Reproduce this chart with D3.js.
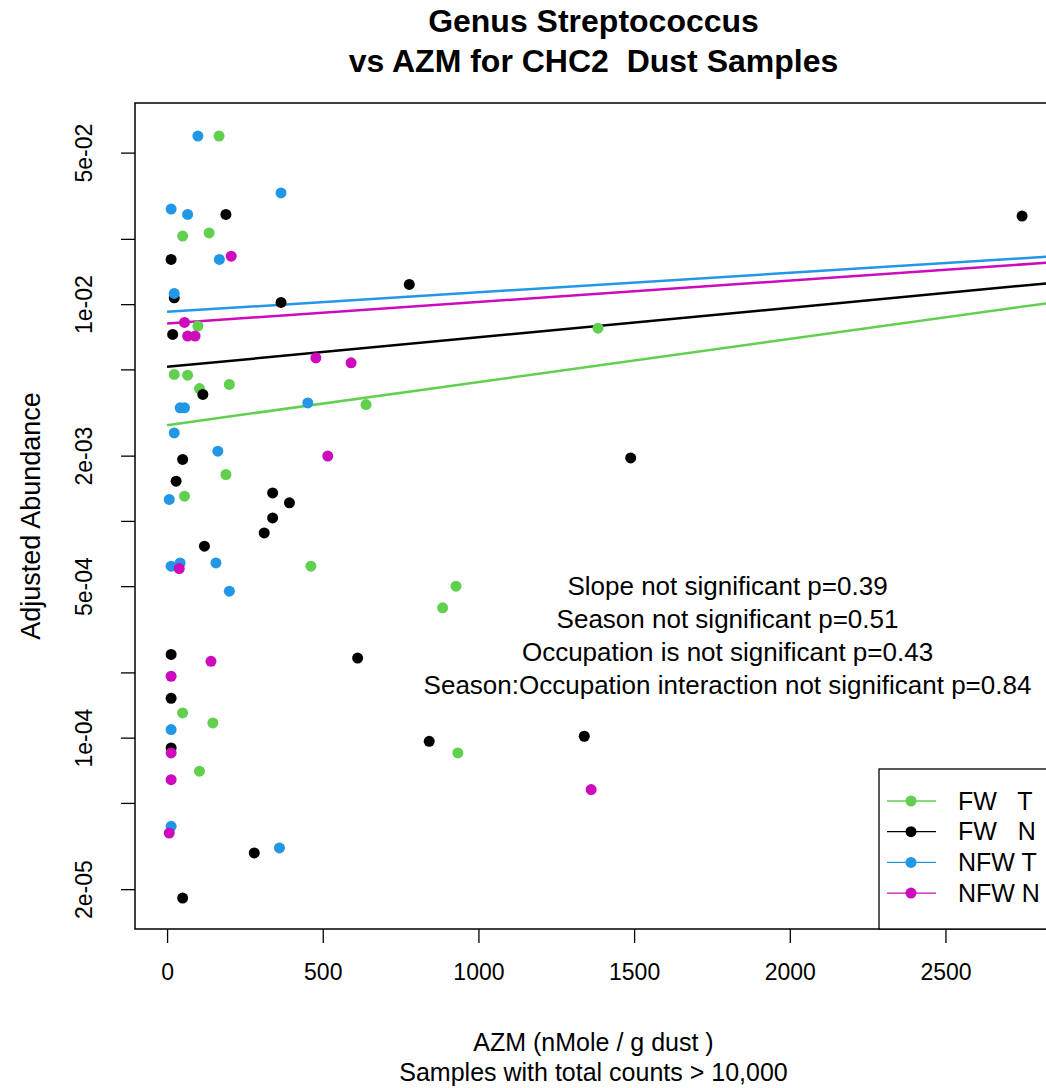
<!DOCTYPE html>
<html>
<head>
<meta charset="utf-8">
<script src="https://cdn.jsdelivr.net/npm/d3@7"></script>
<style>
  body { margin: 0; background: #fff; }
  text { font-family: "Liberation Sans", Arial, sans-serif; }
</style>
</head>
<body>
<svg id="chart" width="1046" height="1088"></svg>
<script>
// groups and colours (R palette)
const groups = ["FW   T", "FW   N", "NFW T", "NFW N"];
const colors = ["#61D04F", "#000000", "#2297E6", "#CD0BBC"];

// AZM (x) and adjusted abundance (y) per group
const fwT_x = [167, 50, 135, 99, 23, 66, 104, 200, 639, 1384, 189, 56, 462, 928, 885, 50, 147, 934, 104];
const fwT_y = [0.0596, 0.0206, 0.0213, 0.00792, 0.00474, 0.00470, 0.00408, 0.00426, 0.00344, 0.00775,
  0.001637, 0.0013, 0.000618, 0.0005, 0.000397, 0.00013, 0.000117, 0.000085, 0.00007];

const fwN_x = [189, 13, 23, 366, 778, 18, 115, 2746, 50, 1489, 29, 339, 393, 339, 312, 120, 612, 13, 13, 13, 842, 1340, 280, 50];
const fwN_y = [0.02594, 0.01608, 0.01069, 0.01018, 0.01233, 0.00725, 0.00383, 0.02547, 0.00192, 0.001953,
  0.001525, 0.001346, 0.001211, 0.001032, 0.00088, 0.000764, 0.000233, 0.000242, 0.000152, 0.0000897,
  0.0000962, 0.0001015, 0.0000294, 0.0000182];

const nfwT_x = [99, 366, 13, 66, 168, 23, 42, 56, 452, 23, 163, 7, 13, 42, 157, 200, 13, 13, 361];
const nfwT_y = [0.0596, 0.0326, 0.02744, 0.02594, 0.01608, 0.0112, 0.003323, 0.003323, 0.003503, 0.002547,
  0.002097, 0.001256, 0.000618, 0.00064, 0.00064, 0.000474, 0.000109, 0.000039, 0.000031];

const nfwN_x = [206, 56, 66, 90, 478, 591, 516, 39, 141, 13, 13, 13, 7, 1362];
const nfwN_y = [0.01665, 0.00823, 0.00712, 0.00712, 0.00565, 0.00536, 0.00199, 0.000603, 0.000225, 0.000192,
  0.000085, 0.000064, 0.0000363, 0.0000576];

// fitted lines: log10(y) = a + b * x
const fitA = [-2.5584, -2.2893, -2.0355, -2.0891];
const fitB = [1.990e-4, 1.363e-4, 0.899e-4, 0.991e-4];

// axes
const xTicks = [0, 500, 1000, 1500, 2000, 2500];
const yTicks = [5e-2, 2e-2, 1e-2, 5e-3, 2e-3, 1e-3, 5e-4, 2e-4, 1e-4, 5e-5, 2e-5];
const yTickLabels = ["5e-02", "", "1e-02", "", "2e-03", "", "5e-04", "", "1e-04", "", "2e-05"];

const annotations = [
  "Slope not significant p=0.39",
  "Season not significant p=0.51",
  "Occupation is not significant p=0.43",
  "Season:Occupation interaction not significant p=0.84"
];

const xs = [fwT_x, fwN_x, nfwT_x, nfwN_x];
const ys = [fwT_y, fwN_y, nfwT_y, nfwN_y];

const svg = d3.select("#chart");
const pL = 135, pR = 1056, pT = 103, pB = 929;

const x = d3.scaleLinear().domain([-103, 2855]).range([pL, pR]);
const y = d3.scaleLog().domain([1.31e-5, 0.0847]).range([pB, pT]);

// clip for the plot region
svg.append("defs").append("clipPath").attr("id", "plotclip")
  .append("rect").attr("x", pL).attr("y", pT)
  .attr("width", pR - pL).attr("height", pB - pT);

// x axis
const xAxis = svg.append("g")
  .attr("transform", `translate(0,${pB})`)
  .call(d3.axisBottom(x).tickValues(xTicks).tickSize(14).tickPadding(21).tickFormat(d3.format("d")));
xAxis.selectAll("text").attr("font-size", 23).attr("fill", "#000");
xAxis.select(".domain").remove();

// y axis
const yAxis = svg.append("g")
  .attr("transform", `translate(${pL},0)`)
  .call(d3.axisLeft(y).tickValues(yTicks).tickSize(14).tickFormat((d, i) => yTickLabels[i]));
yAxis.select(".domain").remove();
yAxis.selectAll("text")
  .attr("font-size", 23).attr("fill", "#000")
  .attr("text-anchor", "middle")
  .attr("x", 0).attr("dy", 0)
  .attr("transform", "translate(-49,0) rotate(-90)")
  .attr("dominant-baseline", "middle");
svg.selectAll(".tick line").attr("stroke", "#000").attr("stroke-width", 1.3);

// fitted lines
const plot = svg.append("g").attr("clip-path", "url(#plotclip)");
const xd = x.domain();
plot.selectAll("line.fit")
  .data(groups)
  .enter()
  .append("line")
    .attr("class", "fit")
    .attr("x1", x(0))
    .attr("x2", x(xd[1]))
    .attr("y1", (d, i) => y(Math.pow(10, fitA[i])))
    .attr("y2", (d, i) => y(Math.pow(10, fitA[i] + fitB[i] * xd[1])))
    .attr("stroke", (d, i) => colors[i])
    .attr("stroke-width", 2.5);

// points
groups.forEach(function (g, gi) {
  plot.append("g")
    .selectAll("circle")
    .data(xs[gi].map((v, k) => [v, ys[gi][k]]))
    .enter()
    .append("circle")
      .attr("cx", d => x(d[0]))
      .attr("cy", d => y(d[1]))
      .attr("r", 5.5)
      .attr("fill", colors[gi]);
});

// plot box
svg.append("rect")
  .attr("x", pL).attr("y", pT)
  .attr("width", pR - pL).attr("height", pB - pT)
  .attr("fill", "none").attr("stroke", "#000").attr("stroke-width", 1.5);

// annotation text
svg.append("g").selectAll("text")
  .data(annotations)
  .enter()
  .append("text")
    .attr("x", x(1800))
    .attr("y", (d, i) => y(5e-4) + i * 33)
    .attr("dy", "0.35em")
    .attr("text-anchor", "middle")
    .attr("font-size", 26)
    .attr("fill", "#000")
    .text(d => d);

// legend (bottom right)
const lg = svg.append("g");
lg.append("rect")
  .attr("x", 879).attr("y", 769)
  .attr("width", pR - 879).attr("height", pB - 769)
  .attr("fill", "#fff").attr("stroke", "#000").attr("stroke-width", 1.3);
const rows = lg.selectAll("g.row")
  .data(groups)
  .enter()
  .append("g")
    .attr("transform", (d, i) => `translate(0,${801 + i * 30.7})`);
rows.append("line")
  .attr("x1", 887).attr("x2", 936)
  .attr("stroke", (d, i) => colors[i]).attr("stroke-width", 1.3);
rows.append("circle")
  .attr("cx", 911).attr("r", 5.5)
  .attr("fill", (d, i) => colors[i]);
rows.append("text")
  .attr("x", 958).attr("dy", "0.35em")
  .attr("font-size", 25)
  .attr("fill", "#000")
  .style("white-space", "pre")
  .text(d => d);

// titles
const cx = (pL + pR) / 2;
svg.append("text").attr("x", cx - 2).attr("y", 32)
  .attr("text-anchor", "middle").attr("font-size", 32).attr("font-weight", "bold")
  .text("Genus Streptococcus");
svg.append("text").attr("x", cx - 2).attr("y", 72)
  .attr("text-anchor", "middle").attr("font-size", 32).attr("font-weight", "bold")
  .style("white-space", "pre")
  .text("vs AZM for CHC2  Dust Samples");

svg.append("text").attr("x", cx - 2).attr("y", 1051)
  .attr("text-anchor", "middle").attr("font-size", 25)
  .text("AZM (nMole / g dust )");
svg.append("text").attr("x", cx - 2).attr("y", 1081)
  .attr("text-anchor", "middle").attr("font-size", 25)
  .text("Samples with total counts > 10,000");

svg.append("text")
  .attr("transform", `translate(40,${(pT + pB) / 2}) rotate(-90)`)
  .attr("text-anchor", "middle").attr("font-size", 27)
  .text("Adjusted Abundance");
</script>
</body>
</html>
